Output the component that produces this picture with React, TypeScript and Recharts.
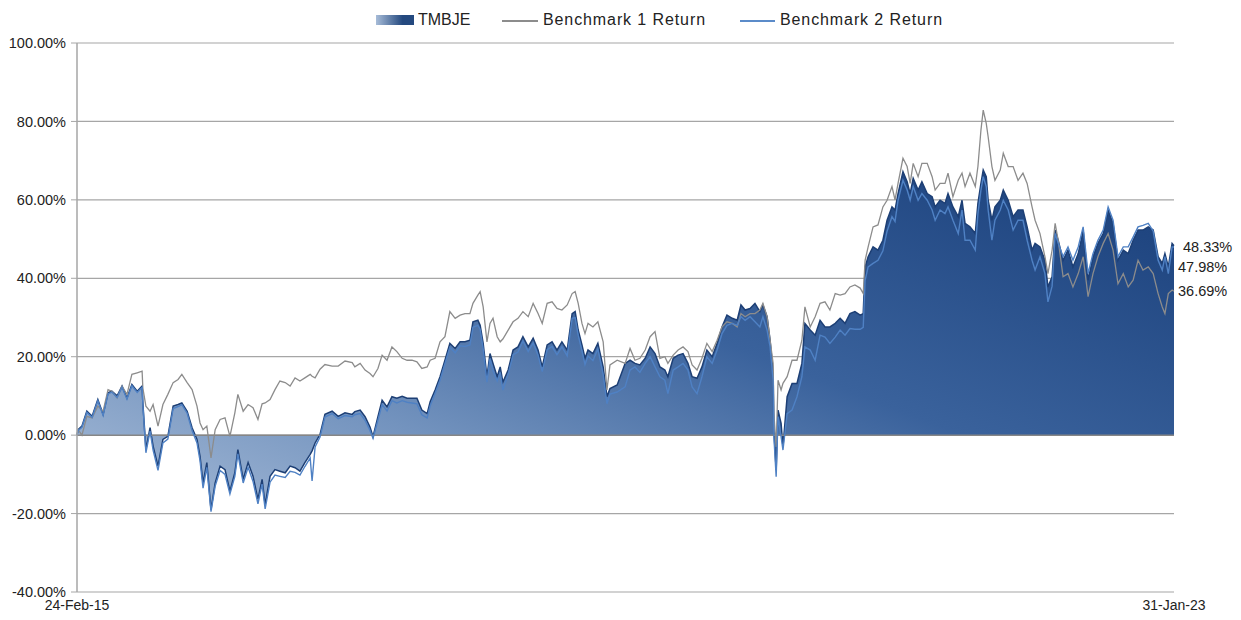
import React from "react";
import {
  ComposedChart,
  Area,
  Line,
  XAxis,
  YAxis,
  CartesianGrid,
  ReferenceLine,
} from "recharts";

// days since 24-Feb-15
const days = [
  0, 3, 13, 26, 40, 55, 69, 82, 92, 106, 119, 132, 145, 159, 172, 174, 182, 193, 201, 214,
  227, 240, 254, 267, 277, 291, 304, 317, 325, 333, 343, 354, 365, 378, 391, 404, 417, 425, 439, 452,
  465, 478, 489, 497, 510, 523, 536, 550, 563, 576, 589, 602, 616, 621, 629, 642, 655, 674, 690, 708,
  727, 734, 748, 761, 774, 782, 795, 806, 819, 832, 845, 859, 872, 885, 898, 911, 925, 933, 946, 959,
  972, 985, 999, 1012, 1025, 1038, 1046, 1059, 1065, 1073, 1083, 1091, 1099, 1110, 1118, 1125, 1139, 1152, 1165, 1178,
  1192, 1205, 1218, 1229, 1242, 1255, 1268, 1281, 1295, 1308, 1316, 1324, 1334, 1342, 1350, 1363, 1376, 1390, 1400, 1408,
  1427, 1448, 1461, 1474, 1487, 1501, 1514, 1527, 1540, 1553, 1561, 1575, 1588, 1601, 1614, 1625, 1638, 1651, 1664, 1678,
  1691, 1704, 1717, 1731, 1744, 1754, 1765, 1778, 1791, 1804, 1812, 1823, 1831, 1839, 1841, 1847, 1852, 1860, 1865, 1876,
  1889, 1902, 1915, 1923, 1937, 1950, 1963, 1976, 1989, 2003, 2016, 2029, 2042, 2055, 2069, 2077, 2082, 2090, 2103, 2116,
  2129, 2140, 2153, 2161, 2169, 2182, 2193, 2201, 2209, 2222, 2232, 2246, 2259, 2267, 2280, 2293, 2301, 2314, 2328, 2338,
  2346, 2359, 2373, 2380, 2388, 2394, 2402, 2407, 2417, 2425, 2439, 2447, 2460, 2473, 2486, 2499, 2510, 2523, 2531, 2544,
  2557, 2565, 2576, 2584, 2592, 2605, 2618, 2631, 2645, 2658, 2671, 2684, 2697, 2711, 2724, 2737, 2750, 2764, 2777, 2790,
  2803, 2816, 2830, 2843, 2856, 2867, 2874, 2883, 2893, 2898,
];

const tmbje = [
  0, 1.4, 2.3, 6.1, 4.8, 9.1, 5.3, 10.8, 11.2, 10.0, 12.5, 9.5, 12.9, 11.2, 12.5, 8.2, -3.7, 1.9, -2.8, -7.9,
  -1.1, -0.3, 7.4, 7.8, 8.2, 6.1, 1.9, -1.1, -5.4, -12.2, -7.0, -19.0, -12.2, -7.9, -8.8, -14.3, -9.6, -3.7, -11.3, -7.0,
  -10.5, -16.4, -11.3, -17.7, -10.5, -8.8, -9.2, -9.6, -7.9, -8.3, -9.2, -7.0, -4.9, -4.0, -2.0, 0.2, 5.3, 6.1, 4.8, 5.7,
  5.3, 6.0, 6.4, 4.7, 2.1, -0.4, 4.7, 8.9, 7.2, 9.8, 9.4, 9.9, 9.4, 9.4, 9.4, 6.4, 5.5, 8.5, 11.5, 14.9,
  19.1, 23.4, 22.1, 23.8, 23.8, 24.2, 28.9, 29.3, 28.0, 23.4, 14.9, 20.8, 18.3, 14.9, 17.4, 13.5, 16.6, 21.7, 22.5, 25.1,
  22.5, 24.7, 21.7, 17.4, 23.0, 23.8, 21.7, 23.8, 21.7, 31.0, 31.5, 26.8, 23.0, 19.6, 21.7, 20.8, 23.4, 17.4, 9.8, 11.9,
  12.8, 18.3, 19.1, 18.3, 17.9, 19.6, 22.5, 20.8, 17.4, 16.6, 14.9, 19.6, 20.4, 20.8, 18.3, 14.9, 14.5, 17.4, 21.7, 20.0,
  23.4, 27.6, 30.6, 29.8, 29.3, 33.2, 31.9, 32.3, 33.6, 31.5, 33.2, 30.2, 24.2, 15.7, 1.3, -8.9, 6.4, 3.0, -3.0, 9.8,
  13.2, 13.2, 18.3, 28.5, 26.8, 25.5, 29.3, 27.6, 27.6, 28.5, 29.8, 28.5, 31.0, 31.5, 30.6, 31.0, 42.9, 45.5, 48.0, 47.2,
  49.7, 54.8, 58.2, 57.4, 61.6, 67.2, 64.6, 61.6, 65.5, 62.5, 64.6, 61.6, 60.8, 58.2, 59.9, 59.1, 61.6, 58.2, 55.7, 59.9,
  54.0, 53.1, 51.4, 59.1, 64.2, 67.6, 65.9, 59.9, 54.8, 58.2, 59.9, 62.5, 59.9, 55.7, 57.4, 57.4, 53.1, 47.2, 48.9, 48.0,
  44.6, 37.8, 40.4, 52.3, 49.7, 44.6, 47.2, 42.9, 46.3, 52.3, 39.5, 45.5, 48.9, 51.4, 57.4, 54.0, 44.6, 47.2, 46.3, 49.7,
  52.3, 52.3, 53.1, 52.3, 45.5, 43.8, 46.3, 42.9, 48.9, 48.33,
];

const benchmark1 = [
  0, 1.4, 0.0, 4.8, 4.4, 7.4, 6.1, 11.6, 11.2, 9.5, 12.5, 10.4, 15.5, 15.9, 16.3, 12.0, 7.4, 6.1, 7.8, 2.3,
  7.8, 10.4, 13.4, 14.2, 15.5, 13.4, 11.6, 7.4, 3.1, 1.4, 2.3, -5.8, 1.4, 4.0, 4.4, -0.3, 5.7, 10.4, 6.1, 7.8,
  7.0, 4.0, 8.0, 8.2, 9.1, 11.6, 13.8, 13.4, 12.5, 14.6, 13.8, 14.6, 15.5, 15.0, 14.6, 16.8, 18.0, 17.6, 17.6, 18.9,
  18.5, 17.4, 18.3, 16.6, 15.7, 14.9, 17.0, 20.4, 19.1, 22.5, 21.3, 19.6, 19.1, 19.1, 18.7, 17.0, 17.4, 19.1, 19.6, 23.8,
  25.1, 31.5, 29.8, 30.6, 31.0, 31.0, 33.6, 35.7, 36.6, 32.7, 23.8, 28.5, 29.8, 25.1, 23.8, 24.5, 26.8, 28.9, 29.8, 31.5,
  30.2, 33.6, 31.0, 28.5, 33.6, 34.0, 32.3, 31.9, 33.2, 36.1, 36.6, 33.6, 28.5, 25.9, 28.5, 27.6, 28.9, 23.8, 11.5, 17.9,
  19.1, 18.3, 22.1, 19.1, 19.6, 21.7, 25.1, 26.4, 19.6, 20.0, 18.3, 20.4, 21.7, 22.5, 21.3, 17.9, 16.6, 19.6, 23.4, 21.3,
  24.2, 27.6, 28.9, 28.5, 27.6, 31.0, 30.2, 31.0, 31.0, 31.9, 33.6, 30.2, 24.2, 18.3, 5.5, -3.0, 14.0, 11.5, 13.2, 14.9,
  19.1, 19.1, 24.2, 32.7, 27.6, 30.2, 33.6, 34.0, 31.9, 36.1, 35.7, 36.1, 37.8, 38.3, 37.5, 36.1, 44.6, 48.0, 53.1, 53.6,
  58.2, 59.9, 63.4, 60.0, 64.2, 70.6, 68.5, 64.2, 69.3, 65.9, 69.3, 69.3, 65.9, 62.5, 64.2, 64.2, 66.8, 60.8, 65.0, 66.8,
  63.4, 66.8, 63.4, 68.5, 77.8, 82.9, 79.5, 76.1, 68.5, 65.0, 67.6, 71.9, 68.5, 68.5, 65.0, 66.8, 64.2, 58.2, 54.8, 51.4,
  45.5, 41.2, 47.2, 54.0, 49.7, 40.4, 41.2, 37.8, 41.2, 45.5, 35.3, 41.2, 45.5, 48.9, 51.4, 47.2, 38.6, 41.2, 37.8, 39.5,
  44.6, 42.1, 42.9, 41.2, 36.1, 32.7, 31.0, 36.1, 37.0, 36.69,
];

const benchmark2 = [
  0, 1.2, 2.0, 5.8, 4.5, 8.8, 5.0, 10.5, 11.0, 9.6, 12.2, 9.2, 12.6, 10.9, 12.2, 7.8, -4.5, 1.0, -3.8, -9.0,
  -2.0, -1.0, 6.8, 7.3, 7.8, 5.6, 1.2, -2.0, -6.5, -13.5, -8.2, -19.5, -13.0, -9.0, -10.0, -15.0, -10.5, -4.8, -12.2, -8.2,
  -11.8, -17.5, -12.5, -18.8, -12.0, -10.2, -10.5, -10.8, -9.2, -9.5, -10.2, -8.0, -5.8, -11.7, -3.0, -0.5, 4.6, 5.5, 4.2, 5.0,
  4.7, 5.2, 5.5, 3.8, 1.2, -0.8, 3.8, 7.8, 6.2, 8.8, 8.2, 8.8, 8.4, 8.2, 8.0, 5.2, 4.4, 7.5, 10.6, 14.0,
  18.2, 22.4, 21.0, 22.8, 22.6, 23.0, 27.5, 28.0, 27.0, 22.0, 13.5, 19.5, 16.5, 13.8, 16.0, 11.5, 15.5, 20.5, 21.2, 24.0,
  21.3, 23.5, 20.4, 16.2, 21.8, 22.6, 20.5, 22.5, 20.2, 29.8, 30.0, 25.5, 21.5, 18.0, 20.2, 19.0, 22.0, 15.5, 8.0, 10.5,
  11.0, 12.3, 16.6, 17.4, 16.0, 18.3, 20.0, 17.4, 14.9, 14.0, 10.6, 16.6, 17.4, 18.3, 16.6, 12.3, 10.6, 14.9, 20.0, 18.3,
  21.7, 25.9, 28.0, 28.5, 28.0, 30.2, 29.3, 30.2, 28.9, 27.6, 30.2, 26.8, 22.5, 14.0, -0.4, -10.6, 4.7, -0.4, -3.8, 5.5,
  6.4, 9.8, 14.9, 22.5, 21.7, 19.1, 25.5, 25.0, 23.4, 25.0, 26.8, 25.5, 27.2, 27.0, 27.0, 27.5, 39.5, 42.9, 43.8, 44.6,
  47.0, 52.0, 55.7, 54.5, 59.9, 65.0, 62.5, 59.9, 63.4, 59.9, 61.6, 59.9, 57.4, 54.8, 57.4, 56.5, 58.2, 54.8, 51.4, 57.4,
  49.7, 49.7, 47.2, 56.5, 62.5, 65.9, 63.4, 57.4, 49.7, 54.8, 57.4, 59.9, 57.4, 52.3, 54.8, 54.8, 49.7, 44.6, 42.1, 45.5,
  41.2, 34.0, 38.0, 51.4, 49.0, 45.5, 48.0, 44.6, 48.0, 53.1, 41.2, 46.3, 49.7, 52.3, 58.2, 54.8, 45.5, 48.0, 48.0, 50.5,
  53.1, 53.5, 54.0, 52.0, 44.6, 42.1, 45.5, 41.2, 48.0, 47.98,
];

const seriesNames = ["TMBJE", "Benchmark 1 Return", "Benchmark 2 Return"];
const yTicks = [-40, -20, 0, 20, 40, 60, 80, 100];
const xTicks = [0, 2898];
const xTickLabels = ["24-Feb-15", "31-Jan-23"];

const rows = days.map((d, i) => ({
  day: d,
  tmbje: tmbje[i],
  b1: benchmark1[i],
  b2: benchmark2[i],
}));

const last = rows.length - 1;
const FONT = "'Liberation Sans', Arial, sans-serif";

const endLabel = (dx: number, dy: number) => (props: any) => {
  if (props.index !== last) return null;
  return (
    <text
      x={props.x + dx}
      y={props.y + dy}
      fontSize={14.5}
      fill="#222"
      fontFamily={FONT}
      dominantBaseline="middle"
    >
      {Number(props.value).toFixed(2)}%
    </text>
  );
};

function LegendRow() {
  const txt: React.CSSProperties = {
    position: "absolute",
    top: 11,
    fontSize: 16,
    letterSpacing: 0.9,
    color: "#222",
    fontFamily: FONT,
  };
  return (
    <>
      <div
        style={{
          position: "absolute",
          left: 376,
          top: 15,
          width: 38,
          height: 10,
          background: "linear-gradient(to right, #a7bcd8, #24497f 70%)",
        }}
      />
      <div style={{ ...txt, left: 418, letterSpacing: 0 }}>{seriesNames[0]}</div>
      <div style={{ position: "absolute", left: 502, top: 20, width: 36, height: 2, background: "#8c8c8c" }} />
      <div style={{ ...txt, left: 543 }}>{seriesNames[1]}</div>
      <div style={{ position: "absolute", left: 740, top: 20, width: 35, height: 2, background: "#5b8bc9" }} />
      <div style={{ ...txt, left: 780 }}>{seriesNames[2]}</div>
    </>
  );
}

export default function App() {
  return (
    <div style={{ position: "relative", width: 1241, height: 620, margin: -8, background: "#fff" }}>
      <LegendRow />
      <ComposedChart
        width={1241}
        height={620}
        data={rows}
        margin={{ top: 43, right: 67, bottom: 0, left: 0 }}
      >
        <defs>
          <linearGradient id="fundFill" x1="0" y1="1" x2="1" y2="0.2">
            <stop offset="0%" stopColor="#a7bcd8" />
            <stop offset="30%" stopColor="#7393be" />
            <stop offset="60%" stopColor="#3a629c" />
            <stop offset="100%" stopColor="#1f4580" />
          </linearGradient>
        </defs>
        <CartesianGrid vertical={false} stroke="#a6a6a6" strokeWidth={1.2} />
        <XAxis
          dataKey="day"
          type="number"
          domain={[0, 2898]}
          ticks={xTicks}
          tickFormatter={(v: number) => xTickLabels[xTicks.indexOf(v)] ?? ""}
          axisLine={false}
          tickLine={false}
          height={28}
          tick={{ fontSize: 14, fill: "#222", fontFamily: FONT }}
          interval={0}
        />
        <YAxis
          domain={[-40, 100]}
          ticks={yTicks}
          width={77}
          tickFormatter={(v: number) => `${v.toFixed(2)}%`}
          axisLine={{ stroke: "#a6a6a6", strokeWidth: 1.5 }}
          tickLine={{ stroke: "#a6a6a6" }}
          tickSize={6}
          tickMargin={5}
          tick={{ fontSize: 14.5, fill: "#222", fontFamily: FONT }}
          allowDataOverflow
        />
        <Area
          dataKey="tmbje"
          name={seriesNames[0]}
          type="linear"
          baseValue={0}
          stroke="#1d3f75"
          strokeWidth={1.5}
          fill="url(#fundFill)"
          fillOpacity={1}
          isAnimationActive={false}
          label={endLabel(9, 3)}
        />
        <ReferenceLine y={0} stroke="#868686" strokeWidth={1.5} />
        <Line
          dataKey="b1"
          name={seriesNames[1]}
          type="linear"
          stroke="#8c8c8c"
          strokeWidth={1.3}
          dot={false}
          isAnimationActive={false}
          label={endLabel(4, 1)}
        />
        <Line
          dataKey="b2"
          name={seriesNames[2]}
          type="linear"
          stroke="#4f81c4"
          strokeWidth={1.4}
          dot={false}
          isAnimationActive={false}
          label={endLabel(4, 21)}
        />
      </ComposedChart>
    </div>
  );
}
